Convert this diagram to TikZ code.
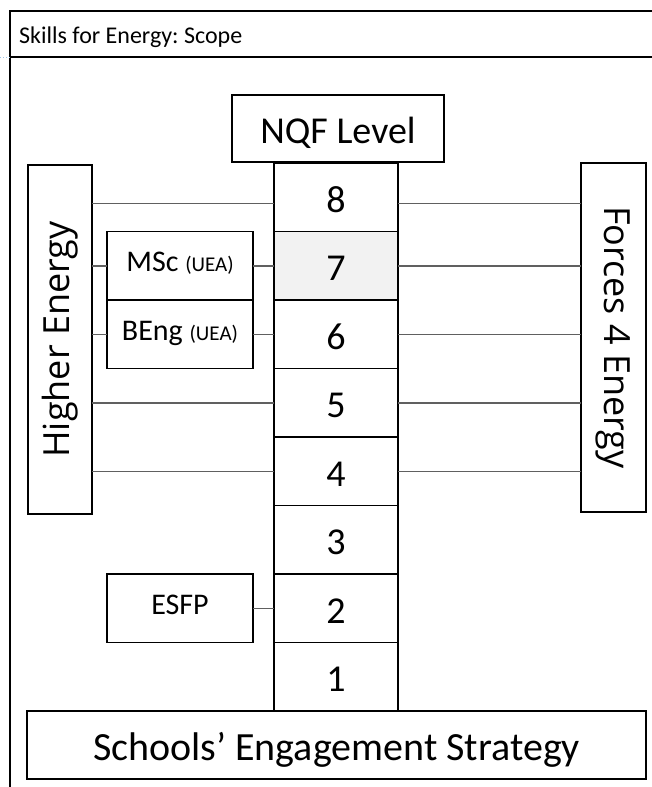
\documentclass[tikz,border=0pt]{standalone}
\usepackage{fontspec}
\setmainfont{Carlito}
\newfontfamily\segfont{Open Sans}
\definecolor{lgrey}{HTML}{F2F2F2}
\definecolor{conn}{HTML}{606060}
\definecolor{dotblue}{HTML}{9DC3E6}
\frenchspacing
\begin{document}
\begin{tikzpicture}[x=1pt,y=-1pt,
  box/.style={draw=black, line width=1.3pt, inner sep=0pt, outer sep=0pt},
  lvl/.style={box, anchor=north west, minimum width=124pt, minimum height=68.5pt, text height=30pt, text depth=0pt, font=\fontsize{38}{38}\selectfont},
  side/.style={box, minimum width=64pt, minimum height=349pt, font=\segfont\fontsize{36}{36}\selectfont},
  uni/.style={box, anchor=north west, minimum width=146pt, minimum height=68.5pt, text height=20pt, text depth=8.5pt},
  link/.style={draw=conn, line width=1.5pt},
  frame/.style={draw=black, line width=1.2pt}]
\useasboundingbox (0,0) rectangle (652,787);
% frame
\draw[frame] (10,787) -- (10,11) -- (652,11);
\draw[frame] (10,57) -- (652,57);
\draw[dotblue, dotted, line width=1pt] (0,57) -- (10,57);
\node[anchor=base west, inner sep=0pt, font=\fontsize{24}{24}\selectfont] (title) at (19,43) {Skills for Energy: Scope};
% NQF column
\node[box, minimum width=212pt, minimum height=67pt, text height=29.5pt, text depth=0pt, font=\fontsize{38}{38}\selectfont] (nqf) at (338,128.5) {NQF Level};
\node[lvl] (r8) at (274,163) {8};
\node[lvl, fill=lgrey] (r7) at (274,231.5) {7};
\node[lvl] (r6) at (274,300) {6};
\node[lvl] (r5) at (274,368.5) {5};
\node[lvl] (r4) at (274,437) {4};
\node[lvl] (r3) at (274,505.5) {3};
\node[lvl] (r2) at (274,574) {2};
\node[lvl] (r1) at (274,642.5) {1};
% side boxes
\node[side] (he) at (60,339.5) {\rotatebox{90}{Higher Energy}};
\node[side, minimum width=65pt] (fe) at (613.5,337.5) {\rotatebox{-90}{Forces 4 Energy}};
\node[uni] (msc) at (107,231.5) {\fontsize{30}{30}\selectfont MSc \fontsize{21}{21}\selectfont(UEA)};
\node[uni] (beng) at (107,300) {\fontsize{30}{30}\selectfont BEng \fontsize{21}{21}\selectfont(UEA)};
\node[uni, text height=20pt, text depth=7.7pt] (esfp) at (107,574) {\fontsize{30}{30}\selectfont ESFP};
\node[box, minimum width=619pt, minimum height=68pt, text height=31pt, text depth=0pt, font=\fontsize{40}{40}\selectfont] (ses) at (336.5,745) {Schools’ Engagement Strategy};
% connectors
\coordinate (c8l) at ([yshift=-6pt]r8.west);
\coordinate (c8r) at ([yshift=-6pt]r8.east);
\draw[link] (he.east |- c8l) -- (c8l);
\draw[link] (he.east |- msc.west) -- (msc.west);
\draw[link] (msc.east) -- (r7.west);
\draw[link] (he.east |- beng.west) -- (beng.west);
\draw[link] (beng.east) -- (r6.west);
\draw[link] (he.east |- r5.west) -- (r5.west);
\draw[link] (he.east |- r4.west) -- (r4.west);
\draw[link] (esfp.east) -- (r2.west);
\draw[link] (c8r) -- (fe.west |- c8r);
\draw[link] (r7.east) -- (fe.west |- r7.east);
\draw[link] (r6.east) -- (fe.west |- r6.east);
\draw[link] (r5.east) -- (fe.west |- r5.east);
\draw[link] (r4.east) -- (fe.west |- r4.east);
\end{tikzpicture}
\end{document}
